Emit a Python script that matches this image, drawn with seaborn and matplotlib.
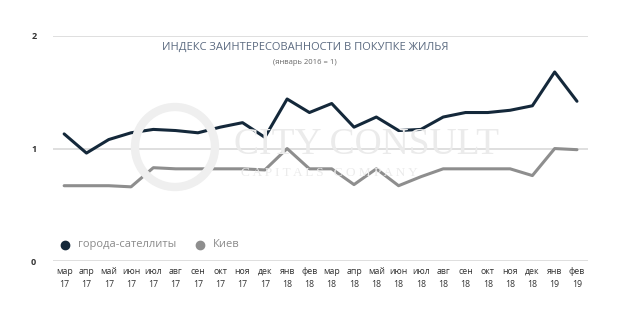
import matplotlib
matplotlib.use("Agg")
import matplotlib.pyplot as plt
import seaborn as sns
import pandas as pd
from matplotlib.patches import Ellipse

months = ["мар", "апр", "май", "июн", "июл", "авг", "сен", "окт", "ноя", "дек", "янв", "фев",
          "мар", "апр", "май", "июн", "июл", "авг", "сен", "окт", "ноя", "дек", "янв", "фев"]
years = ["17"] * 10 + ["18"] * 12 + ["19"] * 2
satellites = [1.13, 0.96, 1.08, 1.14, 1.17, 1.16, 1.14, 1.19, 1.23, 1.10, 1.44, 1.32,
              1.40, 1.19, 1.28, 1.16, 1.17, 1.28, 1.32, 1.32, 1.34, 1.38, 1.68, 1.42]
kiev = [0.67, 0.67, 0.67, 0.66, 0.83, 0.82, 0.82, 0.82, 0.82, 0.81, 1.00, 0.82,
        0.82, 0.68, 0.82, 0.67, 0.75, 0.82, 0.82, 0.82, 0.82, 0.76, 1.00, 0.99]
series_names = ["города-сателлиты", "Киев"]
yticks = [0, 1, 2]

DARK = "#14283a"
GREY = "#8e8e8e"

sns.set_theme(style="white")
plt.rcParams["font.family"] = ["Open Sans", "DejaVu Sans"]

labels = [f"{m}\n{y}" for m, y in zip(months, years)]
df = pd.DataFrame({
    "x": list(range(len(months))) * 2,
    "value": satellites + kiev,
    "series": [series_names[0]] * len(months) + [series_names[1]] * len(months),
})

fig = plt.figure(figsize=(6.25, 3.24), dpi=100)
ax = fig.add_axes([0.0848, 0.194, 0.8562, 0.695])

# watermark logo ring and text
r = 40
fig.patches.append(Ellipse((175 / 625, 1 - 147 / 324), 2 * r / 625, 2 * r / 324,
                           transform=fig.transFigure, fill=False,
                           edgecolor="#efefef", linewidth=6, zorder=0))
fig.text(0.375, 1 - 154 / 324, "CITY CONSULT", fontsize=27, color="#ebebeb",
         family=["Liberation Serif", "DejaVu Serif"], ha="left", va="baseline", zorder=0)
fig.text(0.385, 1 - 176 / 324, "C A P I T A L S   C O M P A N Y", fontsize=9.5, color="#ebebeb",
         family=["Liberation Serif", "DejaVu Serif"], ha="left", va="baseline", zorder=0)

for y in yticks:
    ax.axhline(y, color="#d9d9d9", linewidth=1.2, zorder=1)

sns.lineplot(data=df, x="x", y="value", hue="series", palette=[DARK, GREY],
             linewidth=2.2, ax=ax, legend=False, zorder=3)
for line in ax.get_lines()[-2:]:
    line.set_solid_joinstyle("round")
    line.set_solid_capstyle("round")

ax.set_xlim(-0.5, len(months) - 0.5)
ax.set_ylim(0, 2)
ax.set_xticks(range(len(months)))
ax.set_xticklabels(labels, fontsize=6.3, color="#333333", linespacing=1.6)
ax.set_yticks(yticks)
ax.set_yticklabels([str(t) for t in yticks], fontsize=6.5, color="#333333", fontweight="bold")
ax.tick_params(axis="x", length=0, pad=4)
ax.tick_params(axis="y", length=0, pad=12)
for s in ax.spines.values():
    s.set_visible(False)
ax.set_xlabel("")
ax.set_ylabel("")
ax.patch.set_alpha(0)

fig.text(0.488, 0.855, "ИНДЕКС ЗАИНТЕРЕСОВАННОСТИ В ПОКУПКЕ ЖИЛЬЯ", fontsize=8,
         color="#5b6a80", ha="center", va="center")
fig.text(0.488, 0.808, "(январь 2016 = 1)", fontsize=5.5, color="#666666",
         ha="center", va="center")

# legend
fig.lines.append(plt.Line2D([0.104], [0.245], marker="o", markersize=6, color=DARK,
                            linestyle="none", transform=fig.transFigure))
fig.text(0.125, 0.245, series_names[0], fontsize=8, color="#8a8a8a", va="center")
fig.lines.append(plt.Line2D([0.32], [0.245], marker="o", markersize=6, color=GREY,
                            linestyle="none", transform=fig.transFigure))
fig.text(0.34, 0.245, series_names[1], fontsize=8, color="#8a8a8a", va="center")

fig.savefig("out.png", dpi=100, facecolor="white")
